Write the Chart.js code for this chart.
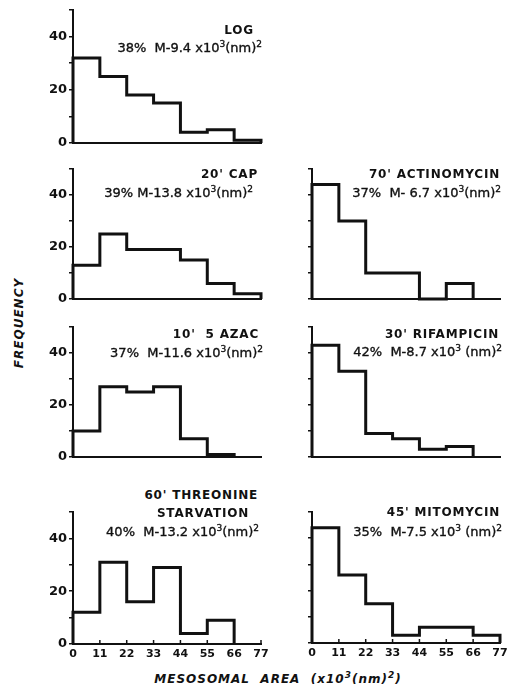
<!DOCTYPE html>
<html lang="en">
<head>
<meta charset="UTF-8">
<title>Mesosomal area histograms</title>
<script src="https://cdn.jsdelivr.net/npm/chart.js"></script>
<style>
  body { margin: 0; background: #fff; }
  #fig { position: relative; width: 514px; height: 690px; font-family: 'DejaVu Sans', sans-serif; color: #111; }
  #fig canvas { position: absolute; }
  .txt { position: absolute; white-space: pre; line-height: 14px; }
  .txt sup { font-size: 9px; line-height: 0; vertical-align: 5px; }
  .title { font-weight: bold; font-size: 12px; letter-spacing: 0.8px; }
  .note { font-size: 13px; -webkit-text-stroke: 0.35px #111; }
  .axis { font-weight: bold; font-style: italic; font-size: 12px; letter-spacing: 1px; text-align: center; width: 300px; }
</style>
</head>
<body>
<div id="fig"></div>
<script>
// bin edges (x10^3 nm^2) and frequencies
const binEdges = [0, 11, 22, 33, 44, 55, 66, 77];
const yLabelValues = [0, 20, 40];

const logFreq = [32, 25, 18, 15, 4, 5, 1];
const capFreq = [13, 25, 19, 19, 15, 6, 2];
const azacFreq = [10, 27, 25, 27, 7, 1, 0];
const threonineFreq = [12, 31, 16, 29, 4, 9, 0];
const actinomycinFreq = [44, 30, 10, 10, 0, 6, 0];
const rifampicinFreq = [43, 33, 9, 7, 3, 4, 0];
const mitomycinFreq = [44, 26, 15, 3, 6, 6, 3];

const panelTitles = ['LOG', "20' CAP", "10'  5 AZAC", "60' THREONINE", "70' ACTINOMYCIN", "30' RIFAMPICIN", "45' MITOMYCIN"];
const panelNotes = [
  '38%  M-9.4 x10<sup>3</sup>(nm)<sup>2</sup>',
  '39% M-13.8 x10<sup>3</sup>(nm)<sup>2</sup>',
  '37%  M-11.6 x10<sup>3</sup>(nm)<sup>2</sup>',
  '40%  M-13.2 x10<sup>3</sup>(nm)<sup>2</sup>',
  '37%  M- 6.7 x10<sup>3</sup>(nm)<sup>2</sup>',
  '42%  M-8.7 x10<sup>3</sup> (nm)<sup>2</sup>',
  '35%  M-7.5 x10<sup>3</sup> (nm)<sup>2</sup>'
];

const fig = document.getElementById('fig');

// layout of each panel: plot area in page pixels, text anchors
const panels = [
  { freq: logFreq, left: 73, right: 261, top: 10, bottom: 143, yLabels: true, xLabels: false, titleY: 30, titleRight: 254, noteY: 48, noteRight: 262 },
  { freq: capFreq, left: 73, right: 261, top: 169, bottom: 299, yLabels: true, xLabels: false, titleY: 174, titleRight: 258, noteY: 193, noteRight: 253 },
  { freq: azacFreq, left: 73, right: 261, top: 327, bottom: 457, yLabels: true, xLabels: false, titleY: 334, titleRight: 259, noteY: 353, noteRight: 263 },
  { freq: threonineFreq, left: 73, right: 261, top: 512, bottom: 644, yLabels: true, xLabels: true, titleY: 495, titleRight: 258, noteY: 532, noteRight: 259 },
  { freq: actinomycinFreq, left: 312, right: 500, top: 169, bottom: 299, yLabels: false, xLabels: false, titleY: 174, titleRight: 500, noteY: 193, noteRight: 501 },
  { freq: rifampicinFreq, left: 312, right: 500, top: 327, bottom: 457, yLabels: false, xLabels: false, titleY: 334, titleRight: 499, noteY: 352, noteRight: 502 },
  { freq: mitomycinFreq, left: 312, right: 500, top: 512, bottom: 643, yLabels: false, xLabels: true, titleY: 512, titleRight: 500, noteY: 532, noteRight: 502 }
];

function stepPoints(freq) {
  let last = freq.length;
  while (last > 0 && freq[last - 1] === 0) last--;
  const pts = [{ x: binEdges[0], y: 0 }];
  for (let i = 0; i < last; i++) {
    pts.push({ x: binEdges[i], y: freq[i] }, { x: binEdges[i + 1], y: freq[i] });
  }
  pts.push({ x: binEdges[last], y: 0 });
  return pts;
}

// small upward tick marks on the labelled x axes
const innerTicks = {
  id: 'innerTicks',
  afterDraw(chart, args, opts) {
    if (!opts.show) return;
    const xs = chart.scales.x, ctx = chart.ctx, b = chart.chartArea.bottom;
    ctx.save();
    ctx.strokeStyle = '#111';
    ctx.lineWidth = 1.5;
    xs.ticks.forEach(t => {
      const px = xs.getPixelForValue(t.value);
      ctx.beginPath();
      ctx.moveTo(px, b);
      ctx.lineTo(px, b - 4);
      ctx.stroke();
    });
    ctx.restore();
  }
};

Chart.defaults.font.family = "'DejaVu Sans', sans-serif";
Chart.defaults.color = '#111';

function addText(cls, html, css) {
  const d = document.createElement('div');
  d.className = 'txt ' + cls;
  d.innerHTML = html;
  Object.assign(d.style, css);
  fig.appendChild(d);
  return d;
}

panels.forEach((p, i) => {
  const yw = 45, xh = p.xLabels ? 24 : 10, padTop = 10, padRight = 12;
  const canvas = document.createElement('canvas');
  canvas.width = p.right - p.left + yw + padRight;
  canvas.height = p.bottom - p.top + padTop + xh;
  canvas.style.left = (p.left - yw) + 'px';
  canvas.style.top = (p.top - padTop) + 'px';
  fig.appendChild(canvas);

  new Chart(canvas, {
    type: 'line',
    data: {
      datasets: [{
        data: stepPoints(p.freq),
        borderColor: '#111',
        borderWidth: 3,
        borderJoinStyle: 'miter',
        pointRadius: 0,
        fill: false,
        tension: 0,
        clip: 6
      }]
    },
    options: {
      responsive: false,
      animation: false,
      devicePixelRatio: 1,
      layout: { padding: { left: 0, top: padTop, right: padRight, bottom: 0 } },
      plugins: {
        legend: { display: false },
        tooltip: { enabled: false },
        innerTicks: { show: p.xLabels }
      },
      scales: {
        x: {
          type: 'linear',
          min: binEdges[0],
          max: binEdges[binEdges.length - 1],
          ticks: {
            stepSize: 11,
            display: p.xLabels,
            padding: 4,
            maxRotation: 0,
            autoSkip: false,
            font: { size: 11, weight: 'bold' }
          },
          grid: { display: false, drawTicks: false },
          border: { display: true, color: '#111', width: 2 },
          afterFit: s => { s.height = xh; }
        },
        y: {
          min: 0,
          max: 50,
          ticks: {
            stepSize: 10,
            padding: 2,
            font: { size: 13, weight: 'bold' },
            callback: v => (p.yLabels && yLabelValues.includes(v)) ? String(v) : ''
          },
          grid: { drawOnChartArea: false, drawTicks: true, tickLength: 4, color: '#111', lineWidth: 1.5 },
          border: { display: true, color: '#111', width: 2 },
          afterFit: s => { s.width = yw; }
        }
      }
    },
    plugins: [innerTicks]
  });

  addText('title', panelTitles[i], { right: (514 - p.titleRight) + 'px', top: (p.titleY - 7) + 'px' });
  addText('note', panelNotes[i], { right: (514 - p.noteRight) + 'px', top: (p.noteY - 7) + 'px' });
});

// second line of the threonine title
addText('title', 'STARVATION', { left: '103px', width: '200px', textAlign: 'center', top: '506px' });

// shared axis titles
addText('axis', 'FREQUENCY', { left: '-131px', top: '316px', transform: 'rotate(-90deg)' });
addText('axis', 'MESOSOMAL  AREA  (x10<sup>3</sup>(nm)<sup>2</sup>)', { left: '128px', top: '672px' });
</script>
</body>
</html>
